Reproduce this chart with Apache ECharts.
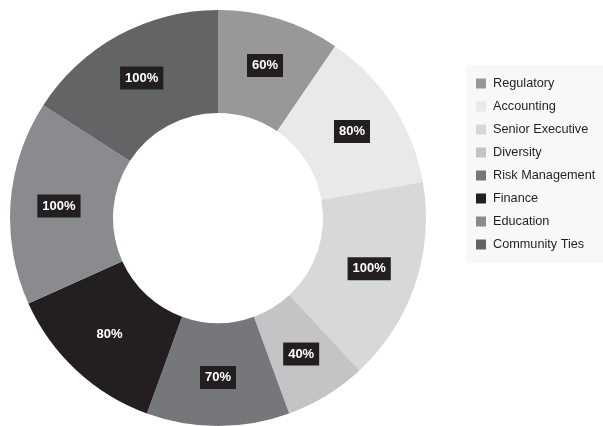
<!DOCTYPE html>
<html>
<head>
<meta charset="utf-8">
<script src="https://cdn.jsdelivr.net/npm/echarts@6/dist/echarts.min.js"></script>
<style>
  html, body { margin: 0; padding: 0; background: #fff; }
  #graph { width: 603px; height: 426px; }
</style>
</head>
<body>
<div id="graph"></div>
<script>
"use strict"

const categories = ["Regulatory", "Accounting", "Senior Executive", "Diversity", "Risk Management", "Finance", "Education", "Community Ties"];
const values = [60, 80, 100, 40, 70, 80, 100, 100];
const colors = ["#98989b", "#e9e9eb", "#d7d8da", "#c4c4c6", "#76777b", "#231f20", "#8a8b8e", "#636466"];

const myChart = echarts.init(document.getElementById("graph"), null, { renderer: "canvas" });

const option = {
    animation: false,
    color: colors,
    legend: {
        orient: "vertical",
        left: 466,
        top: 65,
        width: 137,
        padding: [12, 30, 12, 10],
        backgroundColor: "#f8f8f8",
        itemWidth: 10,
        itemHeight: 10,
        itemGap: 10,
        icon: "rect",
        textStyle: { fontFamily: "Liberation Sans", fontSize: 12.7, color: "#231f20", padding: [0, 0, 0, 2] },
        data: categories
    },
    series: [{
        type: "pie",
        center: [218, 218],
        radius: [105, 208],
        startAngle: 90,
        clockwise: true,
        avoidLabelOverlap: false,
        label: {
            show: true,
            position: "inside",
            formatter: p => p.value + "%",
            color: "#fff",
            fontFamily: "Liberation Sans",
            fontWeight: "bold",
            fontSize: 13,
            backgroundColor: "#231f20",
            padding: [5, 5, 5, 5]
        },
        labelLine: { show: false },
        itemStyle: { borderWidth: 0 },
        emphasis: { disabled: true },
        data: categories.map((name, i) => ({ name: name, value: values[i] }))
    }]
};
myChart.setOption(option);
</script>
</body>
</html>
